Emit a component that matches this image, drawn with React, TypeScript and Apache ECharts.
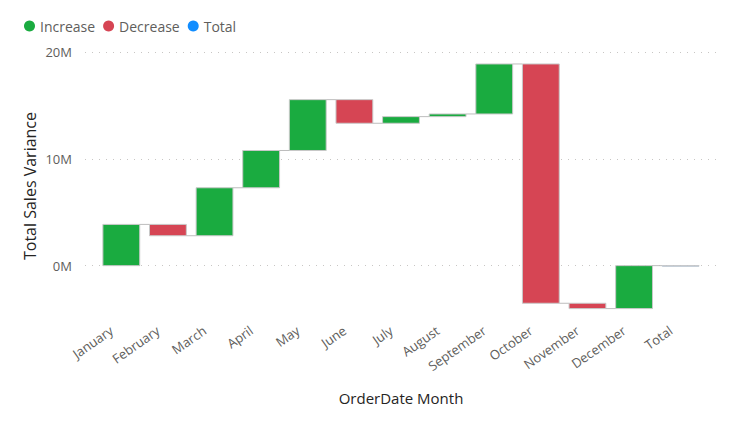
import React, { useEffect, useRef } from "react";
import * as echarts from "echarts";

const categories = [
  "January", "February", "March", "April", "May", "June", "July",
  "August", "September", "October", "November", "December", "Total",
];
// monthly change in sales variance (millions)
const changes = [3.86, -1.06, 4.49, 3.49, 4.76, -2.21, 0.62, 0.25, 4.68, -22.4, -0.5, 4.02];
const totalValue = 0.0;
const yTicks = [0, 10, 20];
const legendNames = ["Increase", "Decrease", "Total"];
const colors: Record<string, string> = { Increase: "#1AAB40", Decrease: "#D64554", Total: "#118DFF" };

const FONT = "'Segoe UI', 'Open Sans', sans-serif";

export default function App() {
  const ref = useRef<HTMLDivElement>(null);
  useEffect(() => {
    if (!ref.current) return;
    const chart = echarts.init(ref.current, null, { renderer: "svg" });
    const rows: any[] = [];
    let cum = 0;
    changes.forEach((c, i) => {
      const start = cum;
      cum = cum + c;
      rows.push([i, start * 1e6, cum * 1e6, c >= 0 ? "Increase" : "Decrease"]);
    });
    rows.push([12, 0, totalValue * 1e6, "Total"]);

    const yMin = -4.9e6;
    const yMax = 20e6;
    const yCommon = {
      type: "value",
      min: yMin,
      max: yMax,
      splitNumber: 2,
      minInterval: 10e6,
      maxInterval: 10e6,
    };

    chart.setOption({
      animation: false,
      legend: {
        data: legendNames.map((n) => ({ name: n, icon: "circle" })),
        left: 19,
        top: 14,
        itemWidth: 11,
        itemHeight: 11,
        itemGap: 8,
        textStyle: { color: "#605E5C", fontSize: 14, fontFamily: FONT },
        selectedMode: false,
      },
      grid: [
        { left: 85, right: 28, top: 52, bottom: 104 },
        { left: 98, right: 42, top: 52, bottom: 104 },
      ],
      xAxis: [
        { type: "category", gridIndex: 0, data: categories, show: false },
        {
          type: "category",
          gridIndex: 1,
          data: categories,
          axisLine: { show: false },
          axisTick: { show: false },
          axisLabel: {
            rotate: 35,
            margin: 4,
            padding: [0, 12, 0, 0],
            color: "#605E5C",
            fontSize: 13,
            fontFamily: FONT,
            interval: 0,
          },
        },
      ],
      yAxis: [
        {
          ...yCommon,
          gridIndex: 0,
          axisLine: { show: false },
          axisTick: { show: false },
          axisLabel: {
            showMinLabel: false,
            color: "#605E5C",
            fontSize: 13,
            fontFamily: FONT,
            margin: 13,
            formatter: (v: number) => (yTicks.includes(v / 1e6) ? `${v / 1e6}M` : ""),
          },
          splitLine: {
            show: true,
            showMinLine: false,
            lineStyle: { color: "#C8C6C4", type: [1, 6], width: 1 },
          },
        },
        { ...yCommon, gridIndex: 1, show: false },
      ],
      graphic: [
        {
          type: "text",
          x: 30,
          y: 186,
          rotation: Math.PI / 2,
          style: {
            text: "Total Sales Variance",
            fill: "#252423",
            font: `16px ${FONT}`,
            align: "center",
            verticalAlign: "middle",
          },
        },
        {
          type: "text",
          x: 401,
          y: 398,
          style: {
            text: "OrderDate Month",
            fill: "#252423",
            font: `15px ${FONT}`,
            align: "center",
            verticalAlign: "middle",
          },
        },
      ],
      series: [
        {
          type: "custom",
          name: "Waterfall",
          xAxisIndex: 1,
          yAxisIndex: 1,
          encode: { x: 0, y: [1, 2] },
          data: rows,
          renderItem: (params: any, api: any) => {
            const i = api.value(0);
            const s = api.value(1);
            const e = api.value(2);
            const kind = rows[params.dataIndex][3];
            const p0 = api.coord([i, s]);
            const p1 = api.coord([i, e]);
            const band = api.size([1, 0])[0];
            const w = band * 0.79;
            const children: any[] = [
              {
                type: "rect",
                shape: {
                  x: p0[0] - w / 2,
                  y: Math.min(p0[1], p1[1]),
                  width: w,
                  height: Math.max(Math.abs(p1[1] - p0[1]), 0.5),
                },
                style: { fill: colors[kind], stroke: "#C8C8C8", lineWidth: 1 },
              },
            ];
            if (i < categories.length - 1) {
              children.push({
                type: "line",
                shape: { x1: p1[0] + w / 2, y1: p1[1], x2: p1[0] + band - w / 2, y2: p1[1] },
                style: { stroke: "#BDBDBD", lineWidth: 1 },
              });
            }
            return { type: "group", children };
          },
        },
        ...legendNames.map((n) => ({
          type: "bar",
          name: n,
          xAxisIndex: 1,
          yAxisIndex: 1,
          data: [],
          itemStyle: { color: colors[n] },
        })),
      ],
    });
    return () => chart.dispose();
  }, []);
  return (
    <div
      ref={ref}
      style={{ position: "fixed", left: 0, top: 0, width: 746, height: 422, background: "#fff" }}
    />
  );
}
